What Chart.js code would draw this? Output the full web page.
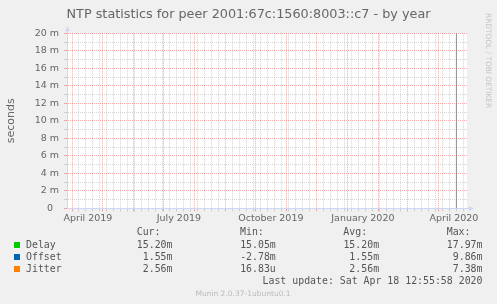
<!DOCTYPE html>
<html><head><meta charset="utf-8">
<script src="https://cdn.jsdelivr.net/npm/chart.js@4.4.1/dist/chart.umd.min.js"></script>
<style>
html,body{margin:0;padding:0;background:#f0f0f0;}
#wrap{position:relative;width:497px;height:304px;overflow:hidden;background:#f0f0f0;}
canvas{position:absolute;left:0;top:0;}
.t{position:absolute;white-space:pre;font-family:"DejaVu Sans Mono",monospace;font-size:9.9px;line-height:12px;color:#555;}
.r{text-align:right;width:80px;}
.sw{position:absolute;width:6px;height:6px;}
#wm{position:absolute;left:483px;top:13px;writing-mode:vertical-rl;font-family:"DejaVu Sans",sans-serif;font-size:7.4px;color:#c4c4c4;white-space:pre;line-height:10px;}
#ft{position:absolute;left:0;width:486px;top:289px;text-align:center;font-family:"DejaVu Sans",sans-serif;font-size:7.5px;line-height:10px;color:#bbbbbb;white-space:pre;}
</style></head><body>
<div id="wrap"><canvas id="c" width="497" height="304"></canvas>
<div id="legend"></div>
<div id="wm">RRDTOOL / TOBI OETIKER</div>
<div id="ft">Munin 2.0.37-1ubuntu0.1</div>
</div>
<script>
// ---- data ----
const chartTitle = 'NTP statistics for peer 2001:67c:1560:8003::c7 - by year';
const yAxisTitle = 'seconds';
const seriesNames = ['Delay', 'Offset', 'Jitter'];
const seriesColors = ['#00cc00', '#0066b3', '#ff8000'];
const columnHeaders = ['Cur:', 'Min:', 'Avg:', 'Max:'];
const curValues = ['15.20m', '1.55m', '2.56m'];
const minValues = ['15.05m', '-2.78m', '16.83u'];
const avgValues = ['15.20m', '1.55m', '2.56m'];
const maxValues = ['17.97m', '9.86m', '7.38m'];
const lastUpdate = 'Last update: Sat Apr 18 12:55:58 2020';
// the plotted series contain no visible samples in the year view
const delayData = [];
const offsetData = [];
const jitterData = [];
// the dark vertical marker near the right edge
const nowMarkerDate = '2020-04-19T00:00:00Z';
const yTickValues = [0, 0.001, 0.002, 0.003, 0.004, 0.005, 0.006, 0.007, 0.008, 0.009, 0.010,
                     0.011, 0.012, 0.013, 0.014, 0.015, 0.016, 0.017, 0.018, 0.019, 0.020];
const yTickLabels = ['0  ', '', '2 m', '', '4 m', '', '6 m', '', '8 m', '', '10 m',
                     '', '12 m', '', '14 m', '', '16 m', '', '18 m', '', '20 m'];
const xTickLabels = ['April 2019', 'July 2019', 'October 2019', 'January 2020', 'April 2020'];
const xLabelDates = ['2019-04-16T12:00:00Z', '2019-07-16T12:00:00Z', '2019-10-16T12:00:00Z', '2020-01-16T12:00:00Z', '2020-04-16T12:00:00Z'];
const firstMonth = '2019-04-01T00:00:00Z';
const monthCount = 13;
const firstWeek = '2019-04-07T00:00:00Z';

// ---- helpers ----
const DAY = 86400000;
const d = s => Date.parse(s) / DAY;
const xMin = d(firstMonth) - 5.4;
const xMax = xMin + 400;

// x ticks: month starts (major), week starts (minor), label positions
const xTicks = [];
const monthSet = new Set();
for (let i = 0; i < monthCount; i++) {
  const dt = new Date(Date.parse(firstMonth));
  dt.setUTCMonth(dt.getUTCMonth() + i);
  const v = dt.getTime() / DAY;
  monthSet.add(v);
  xTicks.push({value: v, kind: 'major'});
}
for (let v = d(firstWeek); v <= xMax; v += 7) {
  if (!monthSet.has(v)) xTicks.push({value: v, kind: 'minor'});
}
xLabelDates.forEach((s, i) => xTicks.push({value: d(s), kind: 'label', text: xTickLabels[i]}));
xTicks.sort((a, b) => a.value - b.value);

const yTicks = yTickValues.map((v, i) => ({value: v, kind: i % 2 === 0 ? 'major' : 'minor', text: yTickLabels[i]}));

const MAJOR = 'rgba(235,70,70,0.45)';
const MINOR = 'rgba(150,150,150,0.4)';
const AXIS = '#CFD6F8';
const gridColor = c => !c.tick ? 'transparent' : c.tick.kind === 'major' ? MAJOR : c.tick.kind === 'minor' ? MINOR : 'transparent';

const bgPlugin = {
  id: 'bg',
  beforeDraw(c) {
    const {ctx, chartArea: a} = c;
    ctx.save();
    ctx.fillStyle = '#f0f0f0';
    ctx.fillRect(0, 0, c.width, c.height);
    ctx.fillStyle = '#ffffff';
    ctx.fillRect(a.left, a.top, a.right - a.left, a.bottom - a.top);
    ctx.restore();
  },
  afterDraw(c) {
    const {ctx, chartArea: a} = c;
    ctx.save();
    ctx.strokeStyle = AXIS; ctx.fillStyle = AXIS; ctx.lineWidth = 1;
    const lx = Math.round(a.left) + 0.5, by = Math.round(a.bottom) + 0.5;
    ctx.beginPath(); ctx.moveTo(lx, a.top); ctx.lineTo(lx, a.top - 3); ctx.stroke();
    ctx.beginPath(); ctx.moveTo(lx - 2.5, a.top - 2); ctx.lineTo(lx + 2.5, a.top - 2); ctx.lineTo(lx, a.top - 7); ctx.closePath(); ctx.fill();
    ctx.beginPath(); ctx.moveTo(a.right, by); ctx.lineTo(a.right + 3, by); ctx.stroke();
    ctx.beginPath(); ctx.moveTo(a.right + 2, by - 2.5); ctx.lineTo(a.right + 2, by + 2.5); ctx.lineTo(a.right + 7, by); ctx.closePath(); ctx.fill();
    ctx.restore();
  }
};

const tickFont = {family: 'DejaVu Sans', size: 9.5};

new Chart(document.getElementById('c'), {
  type: 'line',
  data: {
    datasets: [
      {label: seriesNames[0], data: delayData, borderColor: seriesColors[0], pointRadius: 0, borderWidth: 1},
      {label: seriesNames[1], data: offsetData, borderColor: seriesColors[1], pointRadius: 0, borderWidth: 1},
      {label: seriesNames[2], data: jitterData, borderColor: seriesColors[2], pointRadius: 0, borderWidth: 1},
      {label: 'now', data: [{x: d(nowMarkerDate), y: yTickValues[0]}, {x: d(nowMarkerDate), y: yTickValues[yTickValues.length - 1]}],
       borderColor: '#8f8f8f', borderWidth: 1, pointRadius: 0}
    ]
  },
  options: {
    responsive: false, animation: false, devicePixelRatio: 1,
    layout: {padding: {left: 0, right: 0, top: 0, bottom: 73.7}},
    plugins: {
      legend: {display: false}, tooltip: {enabled: false},
      title: {display: true, text: chartTitle, color: '#666666',
              font: {family: 'DejaVu Sans', size: 12.8, weight: 'normal', lineHeight: 1.2},
              padding: {top: 6.8, bottom: 11.1}}
    },
    scales: {
      x: {
        type: 'linear', min: xMin, max: xMax, offset: false,
        afterFit: s => { s.height = 22; },
        afterBuildTicks: s => { s.ticks = xTicks.map(t => Object.assign({}, t)); },
        ticks: {autoSkip: false, maxRotation: 0, minRotation: 0, padding: 1.5, color: '#666666', font: tickFont,
                callback: (v, i, t) => t[i].text || ''},
        grid: {color: gridColor, tickColor: gridColor, tickLength: 3, lineWidth: 1},
        border: {color: AXIS, width: 1, dash: [1, 1]}
      },
      y: {
        type: 'linear', min: yTickValues[0], max: yTickValues[yTickValues.length - 1],
        afterFit: s => { s.width = 67; },
        afterBuildTicks: s => { s.ticks = yTicks.map(t => Object.assign({}, t)); },
        ticks: {autoSkip: false, padding: 5, color: '#666666', font: tickFont,
                callback: (v, i, t) => t[i].text || ''},
        grid: {color: gridColor, tickColor: gridColor, tickLength: 3, lineWidth: 1},
        border: {color: AXIS, width: 1, dash: [1, 1]},
        title: {display: true, text: yAxisTitle, color: '#666666', font: {family: 'DejaVu Sans', size: 11, lineHeight: 1.2},
                padding: {top: 4.4, bottom: 0}}
      },
      yR: {
        position: 'right', display: true,
        afterFit: s => { s.width = 30; },
        grid: {display: false, drawTicks: false}, ticks: {display: false}, border: {display: false}
      }
    }
  },
  plugins: [bgPlugin]
});

// ---- legend as real text ----
const legend = document.getElementById('legend');
const colLeft = [136.7, 240, 343.3, 446.7];
const valW = 35.8;
function addText(txt, left, top, right) {
  const el = document.createElement('div');
  el.className = 't' + (right ? ' r' : '');
  el.textContent = txt;
  if (right) { el.style.left = (left + valW - 80) + 'px'; } else { el.style.left = left + 'px'; }
  el.style.top = top + 'px';
  legend.appendChild(el);
}
columnHeaders.forEach((h, i) => addText(h, colLeft[i], 226.3, false));
const rowTops = [238.5, 250.5, 262.5];
seriesNames.forEach((n, r) => {
  const sw = document.createElement('div');
  sw.className = 'sw';
  sw.style.left = '14px';
  sw.style.top = (rowTops[r] + 3.8) + 'px';
  sw.style.background = seriesColors[r];
  legend.appendChild(sw);
  addText(n, 26, rowTops[r], false);
  [curValues, minValues, avgValues, maxValues].forEach((arr, c) => addText(arr[r], colLeft[c], rowTops[r], true));
});
const lu = document.createElement('div');
lu.className = 't';
lu.textContent = lastUpdate;
lu.style.left = '0px'; lu.style.width = '482.5px'; lu.style.textAlign = 'right'; lu.style.top = '274.9px';
legend.appendChild(lu);
</script>
</body></html>
